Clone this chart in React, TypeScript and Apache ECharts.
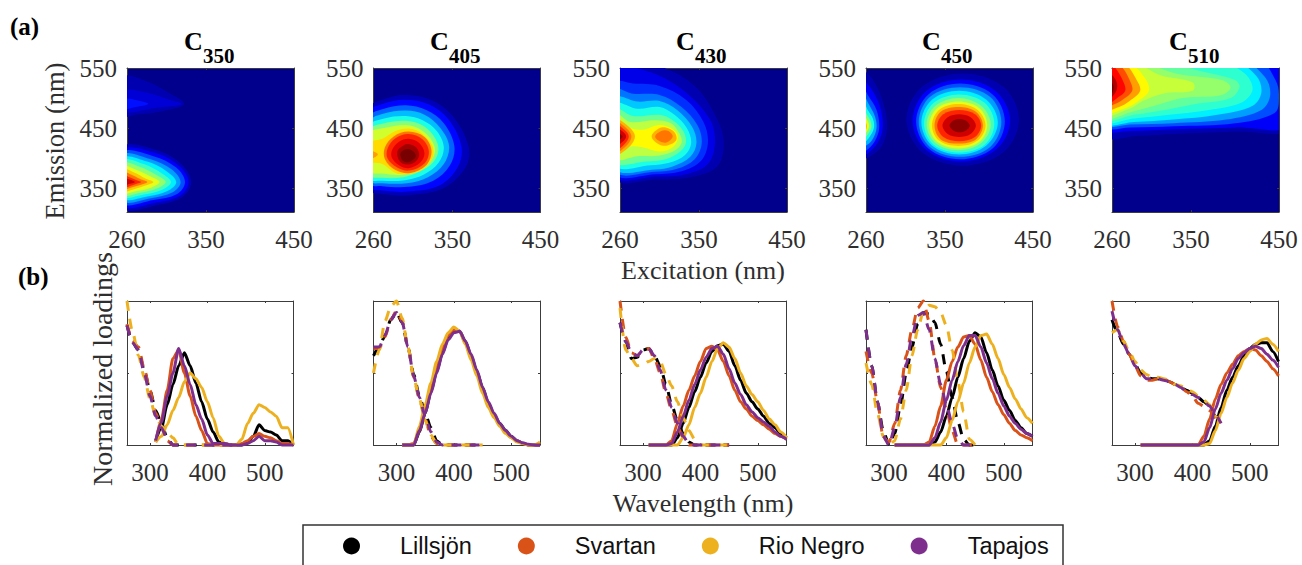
import React, { useEffect, useRef } from "react";
import * as echarts from "echarts";

type Pt = [number, number];
type Contour = [number, Pt[]];

const PANEL_TITLES = ["350", "405", "430", "450", "510"];
const SAMPLE_NAMES = ["Lillsjön", "Svartan", "Rio Negro", "Tapajos"];
const SAMPLE_COLORS = ["#000000", "#D95319", "#EDB120", "#7E2F8E"];
const JET_STOPS: [number, number[]][] = [
  [0, [0, 0, 140]], [0.125, [0, 0, 255]], [0.375, [0, 255, 255]],
  [0.625, [255, 255, 0]], [0.875, [255, 0, 0]], [1, [120, 0, 0]],
];
const EX_TICKS = [260, 350, 450];
const EM_TICKS = [350, 450, 550];
const WL_TICKS = [300, 400, 500];
const LOAD_TICKS = [0, 0.5, 1];
const EX_WL = [260, 270, 280, 290, 300, 310, 320, 330, 340, 350, 360, 370, 380, 390, 400, 410, 420, 430, 440, 450];
const EM_WL = [310, 320, 330, 340, 350, 360, 370, 380, 390, 400, 410, 420, 430, 440, 450, 460, 470, 480, 490, 500, 510, 520, 530, 540, 550];

// Filled contours: [level, boundary in (excitation nm, emission nm)]
const C350_CONTOURS: Contour[] = [
  [0.04, [[255, 535], [282, 528], [306, 510], [325, 490], [300, 478], [270, 472], [255, 470]]],
  [0.08, [[255, 512], [285, 508], [306, 498], [322, 490], [295, 484], [255, 478]]],
  [0.14, [[255, 498], [275, 495], [284, 490], [270, 485], [255, 482]]],
  [0.05, [[255, 418], [296, 412], [323, 388], [333, 360], [324, 336], [296, 322], [255, 317]]],
  [0.12, [[255, 413], [293, 408], [320, 386], [330, 360], [321, 338], [293, 326], [255, 321]]],
  [0.2, [[255, 409], [290, 403], [316, 384], [326, 360], [317, 340], [290, 330], [255, 325]]],
  [0.28, [[255, 405], [287, 398], [311, 381], [321, 360], [312, 343], [287, 333], [255, 329]]],
  [0.36, [[255, 400], [283, 394], [305, 378], [316, 360], [306, 345], [283, 336], [255, 333]]],
  [0.44, [[255, 396], [279, 390], [299, 375], [310, 360], [300, 347], [279, 339], [255, 336]]],
  [0.52, [[255, 391], [275, 385], [293, 372], [304, 360], [294, 349], [275, 342], [255, 339]]],
  [0.6, [[255, 386], [271, 380], [287, 369], [297, 360], [288, 351], [271, 345], [255, 342]]],
  [0.68, [[255, 381], [268, 376], [281, 366], [290, 360], [281, 354], [268, 348], [255, 345]]],
  [0.76, [[255, 377], [265, 372], [275, 365], [283, 360], [275, 355], [265, 351], [255, 348]]],
  [0.84, [[255, 372], [263, 368], [271, 363], [276, 360], [271, 357], [263, 353], [255, 351]]],
  [0.92, [[255, 368], [261, 365], [269, 360], [261, 356], [255, 353]]],
];
const C405_CONTOURS: Contour[] = [
  [0.05, [[255, 483], [270, 497], [295, 505], [325, 497], [350, 470], [368, 420], [365, 385], [340, 350], [300, 338], [270, 340], [255, 347]]],
  [0.13, [[255, 477], [270, 490], [295, 497], [322, 490], [345, 465], [360, 420], [356, 385], [335, 354], [300, 344], [270, 346], [255, 352]]],
  [0.22, [[255, 468], [272, 482], [297, 488], [320, 480], [340, 458], [352, 420], [347, 388], [328, 362], [300, 352], [270, 353], [255, 358]]],
  [0.31, [[255, 460], [272, 474], [297, 479], [318, 472], [336, 450], [346, 420], [340, 390], [322, 368], [298, 358], [270, 358], [255, 362]]],
  [0.4, [[255, 453], [272, 466], [297, 470], [316, 463], [332, 445], [340, 418], [334, 392], [318, 373], [296, 363], [270, 362], [255, 366]]],
  [0.5, [[255, 446], [272, 458], [297, 462], [315, 455], [328, 438], [334, 415], [328, 393], [312, 377], [294, 368], [270, 367], [255, 372]]],
  [0.58, [[255, 441], [272, 450], [297, 455], [313, 448], [325, 432], [330, 412], [324, 393], [310, 380], [292, 372], [270, 374], [255, 378]]],
  [0.66, [[255, 425], [270, 432], [285, 445], [300, 449], [315, 441], [327, 420], [327, 400], [316, 381], [298, 373], [285, 375], [270, 390], [255, 395]]],
  [0.72, [[255, 412], [265, 406], [255, 398]]],
  [0.76, [[273, 418], [283, 436], [300, 444], [318, 435], [326, 412], [320, 388], [302, 375], [285, 380], [273, 398]]],
  [0.84, [[276, 416], [285, 433], [300, 440], [316, 431], [323, 411], [318, 391], [301, 379], [287, 384], [276, 399]]],
  [0.9, [[281, 413], [289, 427], [300, 432], [312, 425], [318, 408], [313, 392], [300, 383], [289, 388], [281, 400]]],
  [0.96, [[287, 411], [294, 421], [301, 423], [309, 417], [312, 404], [307, 393], [298, 389], [290, 394]]],
  [1, [[291, 409], [299, 415], [306, 410], [308, 402], [303, 395], [297, 393], [292, 398]]],
];
const C430_CONTOURS: Contour[] = [
  [0.04, [[255, 555], [300, 555], [345, 520], [372, 460], [378, 420], [370, 385], [340, 368], [300, 364], [255, 366]]],
  [0.1, [[255, 548], [290, 545], [330, 515], [362, 465], [368, 425], [360, 390], [335, 373], [300, 369], [255, 370]]],
  [0.17, [[255, 525], [275, 524], [305, 520], [335, 497], [355, 460], [360, 425], [352, 395], [330, 378], [300, 373], [255, 374]]],
  [0.24, [[255, 513], [275, 507], [305, 505], [330, 485], [348, 455], [353, 425], [345, 398], [325, 382], [300, 377], [255, 378]]],
  [0.32, [[255, 500], [280, 494], [305, 495], [325, 480], [342, 452], [347, 425], [340, 402], [320, 386], [300, 381], [255, 382]]],
  [0.4, [[255, 490], [280, 482], [305, 485], [322, 472], [336, 450], [341, 425], [334, 405], [316, 392], [295, 388], [255, 387]]],
  [0.48, [[255, 482], [275, 470], [305, 472], [320, 463], [332, 445], [335, 425], [328, 410], [312, 398], [290, 394], [255, 393]]],
  [0.56, [[255, 474], [272, 460], [300, 463], [318, 458], [328, 440], [330, 425], [322, 412], [305, 404], [280, 403], [255, 399]]],
  [0.63, [[255, 468], [268, 452], [285, 447], [305, 455], [320, 448], [326, 435], [320, 418], [305, 411], [285, 418], [268, 418], [255, 402]]],
  [0.7, [[255, 464], [270, 452], [277, 436], [270, 418], [255, 406]]],
  [0.7, [[296, 436], [304, 449], [312, 451], [322, 443], [324, 430], [314, 421], [304, 423]]],
  [0.76, [[255, 460], [267, 450], [273, 436], [267, 420], [255, 410]]],
  [0.76, [[300, 436], [307, 445], [315, 445], [320, 436], [313, 426], [305, 428]]],
  [0.84, [[255, 456], [265, 447], [270, 436], [265, 423], [255, 414]]],
  [0.92, [[255, 450], [263, 444], [267, 436], [263, 427], [255, 420]]],
  [0.98, [[255, 444], [260, 440], [263, 436], [260, 431], [255, 427]]],
];
const C450_CONTOURS: Contour[] = [
  [0.04, [[255, 545], [268, 530], [280, 490], [284, 450], [278, 420], [265, 403], [255, 400]]],
  [0.12, [[255, 530], [266, 515], [276, 485], [279, 450], [273, 425], [262, 408], [255, 405]]],
  [0.2, [[255, 522], [262, 505], [272, 480], [275, 450], [270, 428], [260, 412], [255, 410]]],
  [0.3, [[255, 510], [263, 490], [270, 470], [272, 450], [267, 430], [258, 418], [255, 415]]],
  [0.4, [[255, 500], [262, 480], [268, 465], [269, 450], [264, 435], [257, 423], [255, 420]]],
  [0.5, [[255, 492], [260, 475], [265, 462], [266, 450], [261, 437], [255, 427]]],
  [0.6, [[255, 482], [259, 470], [263, 458], [263, 450], [259, 440], [255, 432]]],
  [0.7, [[255, 472], [259, 462], [261, 452], [258, 442], [255, 437]]],
  [0.8, [[255, 460], [258, 455], [259, 451], [257, 446], [255, 444]]],
  [0.04, [[306, 464], [324, 519], [370, 541], [416, 519], [434, 464], [416, 409], [370, 387], [324, 409]]],
  [0.12, [[313, 462], [328, 511], [368, 531], [408, 511], [424, 462], [408, 414], [368, 394], [328, 414]]],
  [0.2, [[317, 461], [331, 506], [367, 524], [404, 506], [418, 461], [404, 416], [367, 398], [331, 416]]],
  [0.28, [[320, 460], [333, 502], [367, 518], [401, 502], [414, 460], [401, 418], [367, 402], [333, 418]]],
  [0.36, [[323, 459], [335, 497], [366, 512], [397, 497], [410, 459], [397, 421], [366, 406], [335, 421]]],
  [0.44, [[326, 457], [337, 492], [366, 506], [395, 492], [406, 457], [395, 422], [366, 409], [337, 422]]],
  [0.52, [[329, 456], [339, 487], [365, 500], [391, 487], [402, 456], [391, 425], [365, 413], [339, 425]]],
  [0.6, [[332, 455], [341, 483], [365, 494], [389, 483], [398, 455], [389, 427], [365, 416], [341, 427]]],
  [0.68, [[335, 454], [343, 480], [365, 490], [387, 480], [396, 454], [387, 429], [365, 420], [343, 429]]],
  [0.76, [[338, 454], [345, 477], [365, 485], [385, 477], [393, 454], [385, 431], [365, 424], [345, 431]]],
  [0.84, [[341, 454], [348, 473], [366, 480], [384, 473], [391, 454], [384, 435], [366, 428], [348, 435]]],
  [0.92, [[347, 454], [353, 468], [366, 473], [379, 468], [385, 454], [379, 440], [366, 435], [353, 440]]],
  [0.98, [[355, 454], [359, 462], [366, 465], [374, 462], [378, 454], [374, 446], [366, 443], [359, 446]]],
];
const C510_CONTOURS: Contour[] = [
  [0.04, [[250, 565], [465, 565], [465, 450], [400, 444], [330, 440], [290, 437], [250, 437]]],
  [0.12, [[250, 565], [465, 565], [465, 455], [400, 451], [330, 448], [280, 445], [250, 448]]],
  [0.2, [[250, 565], [425, 565], [446, 530], [450, 500], [445, 475], [400, 458], [330, 453], [280, 451], [250, 453]]],
  [0.28, [[250, 565], [405, 565], [434, 535], [440, 505], [430, 480], [390, 464], [330, 458], [280, 456], [250, 456]]],
  [0.36, [[250, 565], [395, 565], [424, 537], [430, 510], [420, 487], [380, 472], [330, 464], [285, 460], [250, 459]]],
  [0.42, [[250, 565], [375, 565], [410, 542], [420, 515], [408, 493], [370, 480], [325, 472], [285, 466], [250, 462]]],
  [0.47, [[250, 565], [320, 560], [360, 545], [400, 530], [405, 518], [395, 500], [355, 490], [320, 480], [285, 472], [250, 465]]],
  [0.52, [[250, 565], [300, 556], [335, 540], [385, 530], [395, 518], [385, 505], [340, 500], [315, 490], [285, 478], [250, 468]]],
  [0.57, [[250, 565], [290, 556], [315, 538], [352, 526], [352, 512], [320, 508], [295, 495], [280, 482], [250, 472]]],
  [0.63, [[250, 565], [282, 556], [298, 532], [302, 512], [290, 495], [275, 483], [250, 476]]],
  [0.72, [[250, 565], [275, 556], [288, 530], [292, 512], [280, 495], [268, 485], [250, 480]]],
  [0.8, [[250, 565], [270, 553], [280, 530], [283, 512], [272, 497], [262, 489], [250, 484]]],
  [0.87, [[250, 565], [262, 553], [272, 530], [275, 512], [266, 500], [258, 492], [250, 490]]],
  [0.95, [[252, 545], [262, 535], [266, 520], [262, 505], [252, 497]]],
  [1, [[252, 535], [260, 525], [262, 517], [259, 506], [252, 502]]],
];
const ALL_CONTOURS = [C350_CONTOURS, C405_CONTOURS, C430_CONTOURS, C450_CONTOURS, C510_CONTOURS];

// Panel loadings: excitation (dashed) on EX_WL, emission (solid) on EM_WL
const C350_EX = [
  [0.83, 0.71, 0.66, 0.52, 0.38, 0.24, 0.15, 0.05, 0, 0, 0, 0, 0, 0, 0, 0, 0, 0, 0, 0],
  [0.84, 0.72, 0.68, 0.53, 0.38, 0.22, 0.12, 0.03, 0, 0, 0, 0, 0, 0, 0, 0, 0, 0, 0, 0],
  [1, 0.78, 0.62, 0.47, 0.32, 0.2, 0.13, 0.09, 0.05, 0, 0, 0, 0, 0, 0, 0, 0, 0, 0, 0],
  [0.83, 0.71, 0.66, 0.5, 0.34, 0.2, 0.12, 0.04, 0, 0, 0, 0, 0, 0, 0, 0, 0, 0, 0, 0],
];
const C350_EM = [
  [0.03, 0.12, 0.28, 0.42, 0.55, 0.64, 0.55, 0.43, 0.3, 0.18, 0.09, 0.02, 0.01, 0, 0, 0, 0.02, 0.06, 0.14, 0.1, 0.09, 0.07, 0.03, 0.03, 0],
  [0.02, 0.18, 0.38, 0.6, 0.66, 0.5, 0.34, 0.2, 0.1, 0.01, 0, 0, 0, 0, 0, 0.01, 0.03, 0.06, 0.08, 0.06, 0.05, 0.03, 0.01, 0.01, 0],
  [0.02, 0.06, 0.14, 0.24, 0.33, 0.44, 0.5, 0.46, 0.4, 0.3, 0.19, 0.06, 0.01, 0, 0, 0.04, 0.15, 0.22, 0.28, 0.26, 0.23, 0.2, 0.12, 0.12, 0],
  [0.03, 0.16, 0.34, 0.5, 0.67, 0.55, 0.42, 0.28, 0.18, 0.07, 0.01, 0.01, 0.01, 0, 0, 0, 0.01, 0.03, 0.06, 0.03, 0.03, 0.02, 0, 0, 0],
];
const C405_EX = [
  [0.62, 0.68, 0.76, 0.87, 0.92, 0.85, 0.68, 0.49, 0.34, 0.22, 0.12, 0.03, 0, 0, 0, 0, 0, 0, 0, 0],
  [0.67, 0.67, 0.75, 0.87, 0.93, 0.86, 0.68, 0.47, 0.32, 0.18, 0.06, 0.01, 0, 0, 0, 0, 0, 0, 0, 0],
  [0.5, 0.66, 0.86, 0.96, 1, 0.88, 0.68, 0.47, 0.32, 0.17, 0.07, 0.01, 0, 0, 0, 0, 0, 0, 0, 0],
  [0.68, 0.68, 0.76, 0.87, 0.92, 0.85, 0.68, 0.48, 0.33, 0.2, 0.09, 0.02, 0, 0, 0, 0, 0, 0, 0, 0],
];
const C405_EM = [
  [0, 0, 0, 0.09, 0.22, 0.37, 0.51, 0.64, 0.74, 0.79, 0.79, 0.72, 0.62, 0.51, 0.4, 0.29, 0.21, 0.15, 0.1, 0.06, 0.03, 0.01, 0, 0, 0],
  [0, 0, 0.01, 0.1, 0.25, 0.4, 0.54, 0.67, 0.76, 0.8, 0.79, 0.71, 0.61, 0.5, 0.39, 0.28, 0.2, 0.14, 0.09, 0.05, 0.03, 0.01, 0, 0, 0],
  [0, 0, 0, 0.13, 0.28, 0.43, 0.58, 0.7, 0.78, 0.82, 0.79, 0.7, 0.59, 0.48, 0.36, 0.26, 0.19, 0.13, 0.08, 0.05, 0.02, 0.01, 0, 0, 0.02],
  [0, 0, 0, 0.1, 0.22, 0.36, 0.5, 0.63, 0.73, 0.78, 0.79, 0.72, 0.63, 0.52, 0.4, 0.3, 0.22, 0.15, 0.1, 0.06, 0.03, 0.015, 0.005, 0, 0],
];
const C430_EX = [
  [0.85, 0.72, 0.6, 0.61, 0.66, 0.67, 0.62, 0.55, 0.42, 0.28, 0.17, 0.08, 0.02, 0, 0, 0, 0, 0, 0, 0],
  [1, 0.75, 0.64, 0.62, 0.66, 0.67, 0.6, 0.5, 0.36, 0.24, 0.13, 0.05, 0, 0, 0, 0, 0, 0, 0, 0],
  [0.95, 0.66, 0.6, 0.55, 0.56, 0.58, 0.6, 0.58, 0.49, 0.41, 0.3, 0.19, 0.1, 0.04, 0, 0, 0, 0, 0, 0],
  [0.85, 0.72, 0.64, 0.62, 0.66, 0.67, 0.62, 0.52, 0.38, 0.26, 0.15, 0.06, 0.01, 0, 0, 0, 0, 0, 0, 0],
];
const C430_EM = [
  [0, 0, 0, 0, 0, 0.05, 0.15, 0.26, 0.37, 0.47, 0.57, 0.65, 0.69, 0.7, 0.65, 0.55, 0.45, 0.36, 0.3, 0.25, 0.2, 0.15, 0.12, 0.08, 0.05],
  [0, 0, 0, 0, 0.03, 0.15, 0.27, 0.38, 0.48, 0.58, 0.67, 0.685, 0.66, 0.58, 0.48, 0.38, 0.3, 0.25, 0.2, 0.17, 0.14, 0.11, 0.08, 0.06, 0.04],
  [0, 0, 0, 0, 0, 0, 0.05, 0.14, 0.26, 0.36, 0.47, 0.58, 0.67, 0.71, 0.68, 0.6, 0.5, 0.41, 0.35, 0.3, 0.24, 0.18, 0.14, 0.09, 0.05],
  [0, 0, 0, 0, 0.01, 0.09, 0.2, 0.31, 0.42, 0.52, 0.61, 0.67, 0.685, 0.63, 0.53, 0.43, 0.35, 0.28, 0.23, 0.19, 0.16, 0.13, 0.09, 0.06, 0.04],
];
const C450_EX = [
  [0.8, 0.55, 0.3, 0.1, 0, 0.08, 0.27, 0.5, 0.68, 0.84, 0.92, 0.91, 0.85, 0.7, 0.51, 0.33, 0.16, 0.04, 0, 0],
  [0.65, 0.5, 0.3, 0.05, 0.02, 0.15, 0.38, 0.62, 0.8, 0.95, 1, 0.86, 0.6, 0.4, 0.25, 0.1, 0, 0, 0, 0],
  [0.57, 0.42, 0.22, 0.06, 0, 0.03, 0.18, 0.38, 0.62, 0.8, 0.93, 0.97, 0.96, 0.92, 0.83, 0.66, 0.44, 0.23, 0.04, 0],
  [0.8, 0.55, 0.3, 0.06, 0, 0.12, 0.33, 0.56, 0.75, 0.9, 0.92, 0.8, 0.6, 0.42, 0.28, 0.15, 0.04, 0, 0, 0],
];
const C450_EM = [
  [0, 0, 0, 0, 0, 0, 0, 0.02, 0.09, 0.2, 0.33, 0.47, 0.6, 0.72, 0.78, 0.75, 0.64, 0.52, 0.41, 0.31, 0.24, 0.17, 0.12, 0.08, 0.06],
  [0, 0, 0, 0, 0, 0, 0.02, 0.13, 0.27, 0.45, 0.58, 0.68, 0.75, 0.76, 0.7, 0.59, 0.47, 0.37, 0.28, 0.21, 0.15, 0.1, 0.07, 0.05, 0.03],
  [0, 0, 0, 0, 0, 0, 0, 0, 0, 0.05, 0.17, 0.3, 0.43, 0.57, 0.68, 0.76, 0.77, 0.7, 0.6, 0.49, 0.4, 0.32, 0.25, 0.19, 0.15],
  [0, 0, 0, 0, 0, 0, 0, 0.05, 0.16, 0.31, 0.45, 0.58, 0.69, 0.76, 0.76, 0.68, 0.57, 0.46, 0.36, 0.27, 0.2, 0.15, 0.11, 0.08, 0.06],
];
const C510_EX = [
  [0.87, 0.78, 0.7, 0.63, 0.56, 0.5, 0.47, 0.46, 0.46, 0.45, 0.44, 0.42, 0.4, 0.38, 0.36, 0.33, 0.3, 0.27, 0.2, 0.15],
  [1, 0.82, 0.72, 0.63, 0.55, 0.48, 0.45, 0.45, 0.46, 0.46, 0.44, 0.42, 0.4, 0.37, 0.34, 0.29, 0.27, 0.24, 0.19, 0.15],
  [0.78, 0.8, 0.72, 0.65, 0.58, 0.52, 0.49, 0.47, 0.47, 0.46, 0.45, 0.42, 0.41, 0.39, 0.37, 0.34, 0.31, 0.28, 0.2, 0.15],
  [0.93, 0.8, 0.7, 0.63, 0.55, 0.5, 0.46, 0.46, 0.46, 0.45, 0.44, 0.42, 0.4, 0.37, 0.35, 0.33, 0.3, 0.27, 0.21, 0.15],
];
const C510_EM = [
  [0, 0, 0, 0, 0, 0, 0, 0, 0, 0, 0, 0, 0.03, 0.13, 0.26, 0.38, 0.47, 0.55, 0.62, 0.67, 0.7, 0.71, 0.71, 0.65, 0.58],
  [0, 0, 0, 0, 0, 0, 0, 0, 0, 0, 0, 0.06, 0.18, 0.32, 0.42, 0.5, 0.56, 0.62, 0.65, 0.67, 0.66, 0.62, 0.58, 0.53, 0.48],
  [0, 0, 0, 0, 0, 0, 0, 0, 0, 0, 0, 0, 0.01, 0.1, 0.22, 0.33, 0.43, 0.52, 0.6, 0.65, 0.7, 0.73, 0.74, 0.7, 0.65],
  [0, 0, 0, 0, 0, 0, 0, 0, 0, 0, 0, 0.02, 0.12, 0.25, 0.36, 0.45, 0.53, 0.6, 0.64, 0.67, 0.685, 0.67, 0.63, 0.59, 0.54],
];
const ALL_EX = [C350_EX, C405_EX, C430_EX, C450_EX, C510_EX];
const ALL_EM = [C350_EM, C405_EM, C430_EM, C450_EM, C510_EM];

const SERIF = "'Liberation Serif', 'Times New Roman', serif";
const SANS = "'Liberation Sans', Arial, sans-serif";
const AXIS_GREY = "#3c3c3c";
const TEXT_GREY = "#2e2e2e";
const PANEL_LEFT = [127, 373.5, 620, 866, 1112];
const PANEL_W = 167;
const PANEL_H = 144;
const TOP_Y = 68;
const BOTTOM_Y = 301;
const TITLE_X = [185, 431, 677, 923, 1170];

function jet(t: number): string {
  for (let i = 1; i < JET_STOPS.length; i++) {
    const [t1, c1] = JET_STOPS[i];
    const [t0, c0] = JET_STOPS[i - 1];
    if (t <= t1) {
      const f = (t - t0) / (t1 - t0);
      const c = c0.map((v, k) => Math.round(v + (c1[k] - v) * f));
      return `rgb(${c[0]},${c[1]},${c[2]})`;
    }
  }
  return "rgb(120,0,0)";
}

function axisPair(kind: "x" | "y", gridIndex: number, min: number, max: number, ticks: number[], labelled: boolean, margin: number) {
  const base = { type: "value", gridIndex, min, max, splitLine: { show: false } };
  const line = { show: true, onZero: false, lineStyle: { color: AXIS_GREY, width: 1 } };
  const tick = { show: true, inside: true, length: 2, customValues: ticks, lineStyle: { color: AXIS_GREY, width: 1 } };
  const primary = {
    ...base,
    position: kind === "x" ? "bottom" : "left",
    axisLine: line,
    axisTick: tick,
    axisLabel: {
      show: labelled,
      customValues: ticks,
      margin,
      color: TEXT_GREY,
      fontFamily: SERIF,
      fontSize: 25,
      hideOverlap: false,
    },
  };
  const secondary = {
    ...base,
    position: kind === "x" ? "top" : "right",
    axisLine: line,
    axisTick: tick,
    axisLabel: { show: false },
  };
  return [primary, secondary];
}

function buildOption() {
  const grid: any[] = [];
  const xAxis: any[] = [];
  const yAxis: any[] = [];
  const series: any[] = [];
  const graphic: any[] = [];

  PANEL_LEFT.forEach((left, p) => {
    // Excitation-emission panel
    const g = grid.length;
    grid.push({ left, top: TOP_Y, width: PANEL_W, height: PANEL_H, show: true, backgroundColor: jet(0), borderWidth: 0 });
    const xi = xAxis.length;
    const yi = yAxis.length;
    xAxis.push(...axisPair("x", g, 260, 450, EX_TICKS, true, 15));
    yAxis.push(...axisPair("y", g, 310, 550, EM_TICKS, true, 10));
    const contours = ALL_CONTOURS[p];
    series.push({
      type: "custom",
      coordinateSystem: "cartesian2d",
      xAxisIndex: xi,
      yAxisIndex: yi,
      clip: true,
      silent: true,
      encode: { x: 0, y: 1 },
      data: contours.map((c) => [c[1][0][0], c[1][0][1]]),
      renderItem: (params: any, api: any) => {
        const [level, pts] = contours[params.dataIndex];
        return {
          type: "polygon",
          shape: { points: pts.map((pt) => api.coord(pt)), smooth: 0.35 },
          style: { fill: jet(level) },
        };
      },
    });

    // Loadings panel
    const g2 = grid.length;
    grid.push({ left, top: BOTTOM_Y, width: PANEL_W - 0.5, height: PANEL_H, show: false });
    const xi2 = xAxis.length;
    const yi2 = yAxis.length;
    xAxis.push(...axisPair("x", g2, 260, 550, WL_TICKS, true, 15));
    yAxis.push(...axisPair("y", g2, 0, 1, LOAD_TICKS, false, 0));
    SAMPLE_NAMES.forEach((name, s) => {
      const common = {
        type: "line",
        name,
        xAxisIndex: xi2,
        yAxisIndex: yi2,
        symbol: "none",
        clip: false,
        smooth: 0.25,
        smoothMonotone: "x",
        itemStyle: { color: SAMPLE_COLORS[s] },
        silent: true,
      };
      series.push({
        ...common,
        data: EX_WL.map((w, i) => [w, ALL_EX[p][s][i]]),
        lineStyle: { color: SAMPLE_COLORS[s], width: 3, type: [10, 8] },
      });
      series.push({
        ...common,
        data: EM_WL.map((w, i) => [w, ALL_EM[p][s][i]]),
        lineStyle: { color: SAMPLE_COLORS[s], width: 3, type: "solid" },
      });
    });

    // Title: C with bold subscript
    graphic.push({
      type: "text", x: TITLE_X[p] - 1, y: 41,
      style: { text: "C", font: `bold 26px ${SERIF}`, fill: "#000", align: "left", verticalAlign: "middle" },
    });
    graphic.push({
      type: "text", x: TITLE_X[p] + 18, y: 56,
      style: { text: PANEL_TITLES[p], font: `bold 21px ${SERIF}`, fill: "#000", align: "left", verticalAlign: "middle" },
    });
  });

  const label = (text: string, x: number, y: number, rotation = 0, size = 26) => ({
    type: "text", x, y, rotation,
    style: { text, font: `${size}px ${SERIF}`, fill: TEXT_GREY, align: "center", verticalAlign: "middle" },
  });
  graphic.push(label("Emission (nm)", 55, 141, Math.PI / 2, 26.5));
  graphic.push(label("Normalized loadings", 102, 369, Math.PI / 2, 28));
  graphic.push(label("Excitation (nm)", 703, 270));
  graphic.push(label("Wavelength (nm)", 703, 503));
  graphic.push({
    type: "text", x: 10, y: 26,
    style: { text: "(a)", font: `bold 25px ${SERIF}`, fill: "#000", align: "left", verticalAlign: "middle" },
  });
  graphic.push({
    type: "text", x: 18, y: 276,
    style: { text: "(b)", font: `bold 25px ${SERIF}`, fill: "#000", align: "left", verticalAlign: "middle" },
  });
  graphic.push({
    type: "rect",
    shape: { x: 303, y: 525, width: 760, height: 60 },
    style: { fill: "none", stroke: "#333", lineWidth: 1.5 },
  });

  return {
    animation: false,
    backgroundColor: "#ffffff",
    grid,
    xAxis,
    yAxis,
    series,
    graphic,
    legend: {
      data: SAMPLE_NAMES,
      left: 343,
      top: 534,
      padding: 0,
      icon: "circle",
      itemWidth: 17,
      itemHeight: 17,
      itemGap: 46,
      selectedMode: false,
      textStyle: { fontFamily: SANS, fontSize: 23.5, color: "#111", padding: [0, 0, 0, 35] },
    },
  };
}

export default function App() {
  const ref = useRef<HTMLDivElement>(null);
  useEffect(() => {
    document.body.style.margin = "0";
    const chart = echarts.init(ref.current!, undefined, { renderer: "svg" });
    chart.setOption(buildOption() as any);
    return () => chart.dispose();
  }, []);
  return <div ref={ref} style={{ width: 1302, height: 565 }} />;
}
